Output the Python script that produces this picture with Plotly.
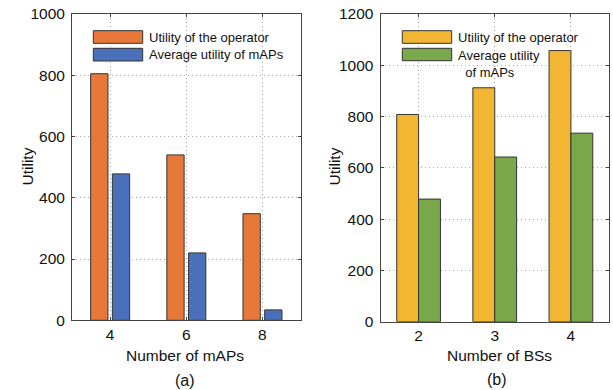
import plotly.graph_objects as go

# ---------------- data ----------------
mAPs_labels = ["4", "6", "8"]
operator_utility_a = [805, 540, 348]
avg_map_utility_a = [478, 220, 34]

bs_labels = ["2", "3", "4"]
operator_utility_b = [808, 912, 1057]
avg_map_utility_b = [478, 642, 735]

series_names = ["Utility of the operator", "Average utility of mAPs"]
legend_text_b = ["Utility of the operator", "Average utility<br>\u00a0\u00a0of mAPs"]

y_ticks_a = [0, 200, 400, 600, 800, 1000]
y_ticks_b = [0, 200, 400, 600, 800, 1000, 1200]

# ---------------- style ----------------
W, H = 613, 390
FONT = "Arial, 'Liberation Sans', Helvetica, sans-serif"
ORANGE = "#E8773A"
BLUE = "#4A70B9"
YELLOW = "#F3B632"
GREEN = "#78A84A"
EDGE = "#333333"
AXC = "#444444"
GRID = "#a8a8a8"


def px(x):
    return x / W


def py(y):
    return 1 - y / H


fig = go.Figure()

# panel (a)
fig.add_trace(go.Bar(x=mAPs_labels, y=operator_utility_a, name=series_names[0],
                     marker=dict(color=ORANGE, line=dict(color=EDGE, width=1)),
                     width=0.227, offset=-0.255, xaxis="x", yaxis="y", showlegend=False))
fig.add_trace(go.Bar(x=mAPs_labels, y=avg_map_utility_a, name=series_names[1],
                     marker=dict(color=BLUE, line=dict(color=EDGE, width=1)),
                     width=0.227, offset=0.03, xaxis="x", yaxis="y", showlegend=False))
# panel (b)
fig.add_trace(go.Bar(x=bs_labels, y=operator_utility_b, name=series_names[0],
                     marker=dict(color=YELLOW, line=dict(color=EDGE, width=1)),
                     width=0.287, offset=-0.287, xaxis="x2", yaxis="y2", showlegend=False))
fig.add_trace(go.Bar(x=bs_labels, y=avg_map_utility_b, name=series_names[1],
                     marker=dict(color=GREEN, line=dict(color=EDGE, width=1)),
                     width=0.287, offset=0.0, xaxis="x2", yaxis="y2", showlegend=False))

axis_common = dict(
    showline=True, linecolor=AXC, linewidth=1, mirror="ticks",
    ticks="inside", ticklen=3, tickcolor=AXC,
    showgrid=True, gridcolor=GRID, griddash="1px,3px", gridwidth=1,
    zeroline=False, automargin=False,
    tickfont=dict(family=FONT, size=15.5, color="#111111"),
)

fig.update_layout(
    width=W, height=H,
    margin=dict(l=0, r=0, t=0, b=0, pad=0),
    paper_bgcolor="white", plot_bgcolor="white",
    barmode="group",
    showlegend=False,
    font=dict(family=FONT, color="#111111"),
    xaxis=dict(domain=[px(72), px(300.5)], range=[-0.5, 2.5], type="category",
               anchor="y", ticklabelstandoff=0, **axis_common),
    yaxis=dict(domain=[py(320.3), py(14)], range=[0, 1000], tickvals=y_ticks_a,
               anchor="x", ticklabelstandoff=3, **axis_common),
    xaxis2=dict(domain=[px(380.5), px(609)], range=[-0.5, 2.5], type="category",
                anchor="y2", ticklabelstandoff=0, **axis_common),
    yaxis2=dict(domain=[py(321.7), py(13.9)], range=[0, 1200], tickvals=y_ticks_b,
                anchor="x2", ticklabelstandoff=3, **axis_common),
)

# axis titles and panel labels
ann = []
ann.append(dict(text="Utility", x=px(26.5), y=py(167), textangle=-90, font=dict(size=15.5)))
ann.append(dict(text="Utility", x=px(333.5), y=py(167), textangle=-90, font=dict(size=15.5)))
ann.append(dict(text="Number of mAPs", x=px(185), y=py(355), font=dict(size=15.5)))
ann.append(dict(text="Number of BSs", x=px(499), y=py(355), font=dict(size=15.5)))
ann.append(dict(text="(a)", x=px(185), y=py(380), font=dict(size=16)))
ann.append(dict(text="(b)", x=px(497), y=py(379), font=dict(size=16)))
for a in ann:
    a.update(xref="paper", yref="paper", showarrow=False, xanchor="center", yanchor="middle")
    a["font"].update(family=FONT, color="#111111")

# legends (drawn as patches + text)
shapes = []
leg_a = [(ORANGE, series_names[0], 30.7, 43.3, 37), (BLUE, series_names[1], 48.3, 61, 54.5)]
for col, name, y0, y1, yt in leg_a:
    shapes.append(dict(type="rect", xref="paper", yref="paper", x0=px(93.3), x1=px(142.7),
                       y0=py(y1), y1=py(y0), fillcolor=col, line=dict(color=EDGE, width=1)))
    ann.append(dict(text=name, x=px(146.5), y=py(yt), xref="paper", yref="paper", showarrow=False,
                    xanchor="left", yanchor="middle", font=dict(family=FONT, size=13, color="#111111")))

leg_b = [(YELLOW, legend_text_b[0], 30.7, 43.3, 37, "middle"), (GREEN, legend_text_b[1], 48.3, 60.7, 46, "top")]
for col, name, y0, y1, yt, ya in leg_b:
    shapes.append(dict(type="rect", xref="paper", yref="paper", x0=px(402.3), x1=px(451.7),
                       y0=py(y1), y1=py(y0), fillcolor=col, line=dict(color=EDGE, width=1)))
    ann.append(dict(text=name, x=px(455.5), y=py(yt), xref="paper", yref="paper", showarrow=False,
                    xanchor="left", yanchor=ya, align="left",
                    font=dict(family=FONT, size=13, color="#111111")))

fig.update_layout(annotations=ann, shapes=shapes)

fig.write_html("out.html", config={"displayModeBar": False},
               post_script="document.body.style.margin='0px';document.body.style.padding='0px';")
